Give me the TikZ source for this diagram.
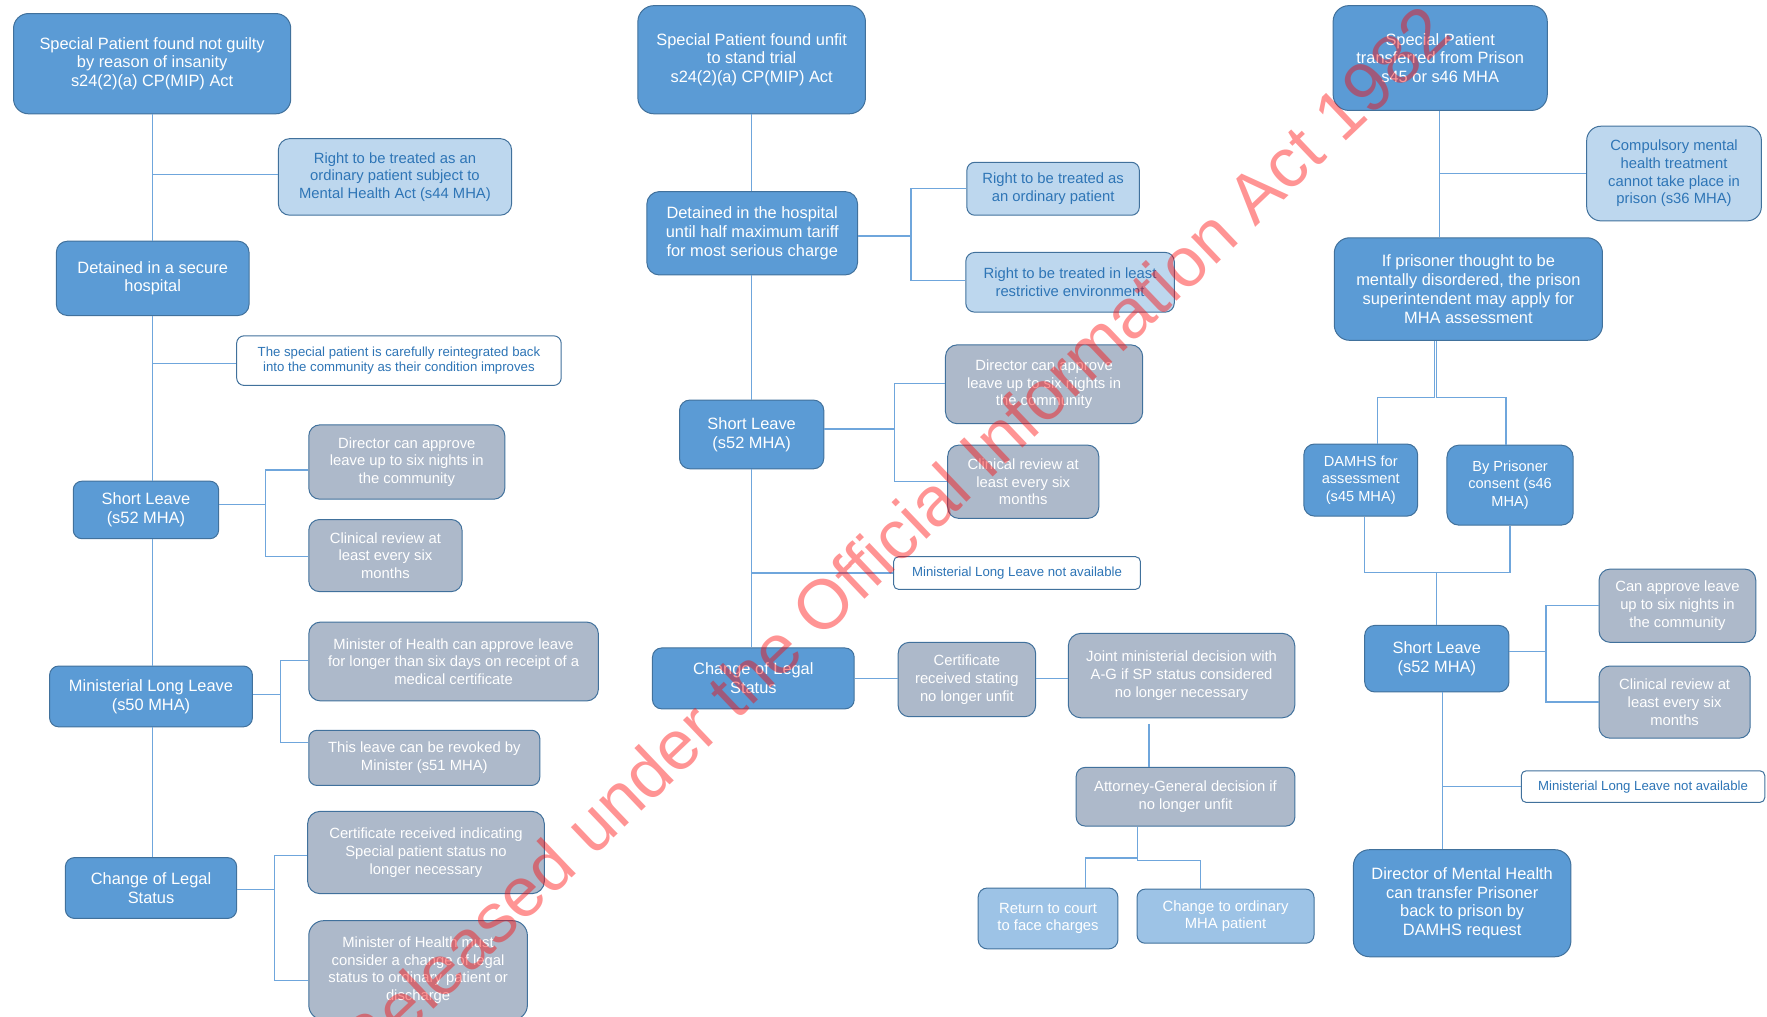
\documentclass[tikz,border=0pt]{standalone}
\usepackage{fontspec}
\setmainfont{Liberation Sans}
\usetikzlibrary{calc}
\definecolor{dkf}{HTML}{5B9BD5}
\definecolor{bdr}{HTML}{41719C}
\definecolor{gyf}{HTML}{ADB9CA}
\definecolor{ltf}{HTML}{BDD7EE}
\definecolor{mdf}{HTML}{9DC3E6}
\definecolor{btx}{HTML}{2E75B6}
\definecolor{lnc}{HTML}{6FA6DC}
\def\U{0.56345pt}
\newcommand\bx[7]{\node[#1,minimum width={(#4-#2)*\U},minimum height={(#5-#3)*\U},rounded corners={0.15*min(#4-#2,#5-#3)*\U}] (#6) at ({(#2+#4)/2},{(#3+#5)/2}) {#7};}
\begin{document}
\begin{tikzpicture}[x=0.56345pt,y=-0.56345pt,
 bxs/.style={draw=bdr,line width=0.5pt,inner sep=0pt,align=center},
 dk/.style={bxs,fill=dkf,text=white,font=\fontsize{8.2pt}{9.4pt}\selectfont},
 dks/.style={bxs,fill=dkf,text=white,font=\fontsize{7.3pt}{8.6pt}\selectfont},
 gy/.style={bxs,fill=gyf,text=white,font=\fontsize{7.4pt}{8.85pt}\selectfont},
 lt/.style={bxs,fill=ltf,text=btx,font=\fontsize{7.4pt}{8.85pt}\selectfont},
 md/.style={bxs,fill=mdf,text=white,font=\fontsize{7.4pt}{8.85pt}\selectfont},
 wh/.style={bxs,fill=white,text=btx,font=\fontsize{6.6pt}{7.9pt}\selectfont},
 ln/.style={draw=lnc,line width=0.6pt}]
\useasboundingbox (0,0) rectangle (1568,902);
\clip (0,0) rectangle (1568,902);
% ---------- left column
\bx{dk}{12}{12}{258}{101}{a1}{Special Patient found not guilty\\by reason of insanity\\s24(2)(a) CP(MIP) Act}
\bx{lt}{247}{123}{454}{191}{a2}{Right to be treated as an\\ordinary patient subject to\\Mental Health Act (s44 MHA)}
\bx{dk}{50}{214}{221}{280}{a3}{Detained in a secure\\hospital}
\bx{wh}{210}{298}{498}{342}{a4}{The special patient is carefully reintegrated back\\into the community as their condition improves}
\bx{dk}{65}{427}{194}{478}{a5}{Short Leave\\(s52 MHA)}
\bx{gy}{274}{377}{448}{443}{a6}{Director can approve\\leave up to six nights in\\the community}
\bx{gy}{274}{461}{410}{525}{a7}{Clinical review at\\least every six\\months}
\bx{dk}{44}{591}{224}{645}{a8}{Ministerial Long Leave\\(s50 MHA)}
\bx{gy}{274}{552}{531}{622}{a9}{Minister of Health can approve leave\\for longer than six days on receipt of a\\medical certificate}
\bx{gy}{274}{648}{479}{697}{a10}{This leave can be revoked by\\Minister (s51 MHA)}
\bx{dk}{58}{761}{210}{815}{a11}{Change of Legal\\Status}
\bx{gy}{273}{720}{483}{793}{a12}{Certificate received indicating\\Special patient status no\\longer necessary}
\bx{gy}{274}{817}{468}{905}{a13}{Minister of Health must\\consider a change of legal\\status to ordinary patient or\\discharge}
% ---------- middle column
\bx{dk}{566}{5}{768}{101}{b1}{Special Patient found unfit\\to stand trial\\s24(2)(a) CP(MIP) Act}
\bx{dk}{574}{170}{761}{244}{b2}{Detained in the hospital\\until half maximum tariff\\for most serious charge}
\bx{lt}{858}{144}{1011}{191}{b3}{Right to be treated as\\an ordinary patient}
\bx{lt}{857}{224}{1042}{277}{b4}{Right to be treated in least\\restrictive environment}
\bx{dk}{603}{355}{731}{416}{b5}{Short Leave\\(s52 MHA)}
\bx{gy}{839}{306}{1014}{376}{b6}{Director can approve\\leave up to six nights in\\the community}
\bx{gy}{841}{395}{975}{460}{b7}{Clinical review at\\least every six\\months}
\bx{wh}{793}{494}{1012}{523}{b8}{Ministerial Long Leave not available}
\bx{dk}{579}{575}{758}{629}{b9}{Change of Legal\\Status}
\bx{gy}{797}{570}{919}{636}{b10}{Certificate\\received stating\\no longer unfit}
\bx{gy}{948}{562}{1149}{637}{b11}{Joint ministerial decision with\\A-G if SP status considered\\no longer necessary}
\bx{gy}{955}{681}{1149}{733}{b12}{Attorney-General decision if\\no longer unfit}
\bx{md}{868}{788}{992}{842}{b13}{Return to court\\to face charges}
\bx{md}{1009}{789}{1166}{837}{b14}{Change to ordinary\\MHA patient}
% ---------- right column
\bx{dk}{1183}{5}{1373}{98}{c1}{Special Patient\\transferred from Prison\\s45 or s46 MHA}
\bx{lt}{1408}{112}{1563}{196}{c2}{Compulsory mental\\health treatment\\cannot take place in\\prison (s36 MHA)}
\bx{dk}{1184}{211}{1422}{302}{c3}{If prisoner thought to be\\mentally disordered, the prison\\superintendent may apply for\\MHA assessment}
\bx{dks}{1157}{394}{1258}{458}{c4}{DAMHS for\\assessment\\(s45 MHA)}
\bx{dks}{1284}{395}{1396}{466}{c5}{By Prisoner\\consent (s46\\MHA)}
\bx{dk}{1211}{555}{1339}{614}{c6}{Short Leave\\(s52 MHA)}
\bx{gy}{1419}{505}{1558}{570}{c7}{Can approve leave\\up to six nights in\\the community}
\bx{gy}{1419}{591}{1553}{655}{c8}{Clinical review at\\least every six\\months}
\bx{wh}{1350}{684}{1566}{712}{c9}{Ministerial Long Leave not available}
\bx{dk}{1201}{754}{1394}{849}{c10}{Director of Mental Health\\can transfer Prisoner\\back to prison by\\DAMHS request}
% ---------- connectors: left
\coordinate (ax) at (135.5,0);
\draw[ln] (ax |- a1.south) -- (ax |- a3.north);
\draw[ln] (ax |- a3.south) -- (ax |- a5.north);
\draw[ln] (ax |- a5.south) -- (ax |- a8.north);
\draw[ln] (ax |- a8.south) -- (ax |- a11.north);
\coordinate (p2) at ($(a2.west)+(0,-2.5)$);
\draw[ln] (ax |- p2) -- (p2);
\coordinate (p4) at ($(a4.west)+(0,2.4)$);
\draw[ln] (ax |- p4) -- (p4);
\draw[ln] ($(a5.east)+(0,-4.6)$) -- ++(41,0) coordinate (j5) |- ($(a6.west)+(0,7)$);
\draw[ln] (j5) |- ($(a7.west)+(0,1)$);
\draw[ln] ($(a8.east)+(0,-1.7)$) -- ++(24.3,0) coordinate (j8) |- ($(a9.west)+(0,-0.8)$);
\draw[ln] (j8) |- ($(a10.west)+(0,-13.6)$);
\draw[ln] ($(a11.east)+(0,1.2)$) -- ++(33,0) coordinate (j11) |- ($(a12.west)+(0,2.7)$);
\draw[ln] (j11) |- ($(a13.west)+(0,8.9)$);
% ---------- connectors: middle
\coordinate (bx) at (667,0);
\draw[ln] (bx |- b1.south) -- (bx |- b2.north);
\draw[ln] (bx |- b2.south) -- (bx |- b5.north);
\draw[ln] (bx |- b5.south) -- (bx |- b9.north);
\draw[ln] (bx |- b8.west) -- (b8.west);
\draw[ln] ($(b2.east)+(0,2.4)$) -- ++(47,0) coordinate (j2) |- (b3.west);
\draw[ln] (j2) |- ($(b4.west)+(0,-1.5)$);
\draw[ln] ($(b5.east)+(0,-4.8)$) -- ++(62,0) coordinate (jb5) |- ($(b6.west)+(0,-1)$);
\draw[ln] (jb5) |- (b7.west);
\draw[ln] (b9.east) -- (b10.west |- b9.east);
\draw[ln] (b10.east |- b9.east) -- (b11.west |- b9.east);
\coordinate (k1) at ($(b11.south)+(-29,5)$);
\draw[ln] (k1) -- (k1 |- b12.north);
\coordinate (k2) at ($(b12.south)+(-42.5,0)$);
\draw[ln] (k2) -- ++(0,28) -| ($(b13.north)+(33,0)$);
\draw[ln] (k2) -- ++(0,30) -| ($(b14.north)+(-22.5,0)$);
% ---------- connectors: right
\coordinate (cx) at (1277.2,0);
\draw[ln] (cx |- c1.south) -- (cx |- c3.north);
\draw[ln] (cx |- c2.west) -- (c2.west);
\draw[ln] ($(c3.south)+(-30,0)$) -- ++(0,50) -| ($(c4.north)+(14.5,0)$);
\draw[ln] ($(c3.south)+(-28,0)$) -- ++(0,50) -| ($(c5.north)+(-3.6,0)$);
\coordinate (m) at ($(c6.north)+(0,-46.6)$);
\draw[ln] ($(c4.south)+(3.5,0)$) |- (m);
\draw[ln] (c5.south) |- (m);
\draw[ln] (m) -- (c6.north);
\draw[ln] ($(c6.east)+(0,-6.2)$) -- ++(32.4,0) coordinate (jc6) |- (c7.west);
\draw[ln] (jc6) |- (c8.west);
\coordinate (cy) at ($(c6.south)+(4.8,0)$);
\draw[ln] (cy) -- (cy |- c10.north);
\draw[ln] (cy |- c9.west) -- (c9.west);
% ---------- watermark
\node[rotate=43.6,text=red,text opacity=0.42,inner sep=0pt,font=\fontsize{34.9pt}{40pt}\selectfont] (wm) at (792.5,477) {Released under the Official Information Act 1982};
\end{tikzpicture}
\end{document}
